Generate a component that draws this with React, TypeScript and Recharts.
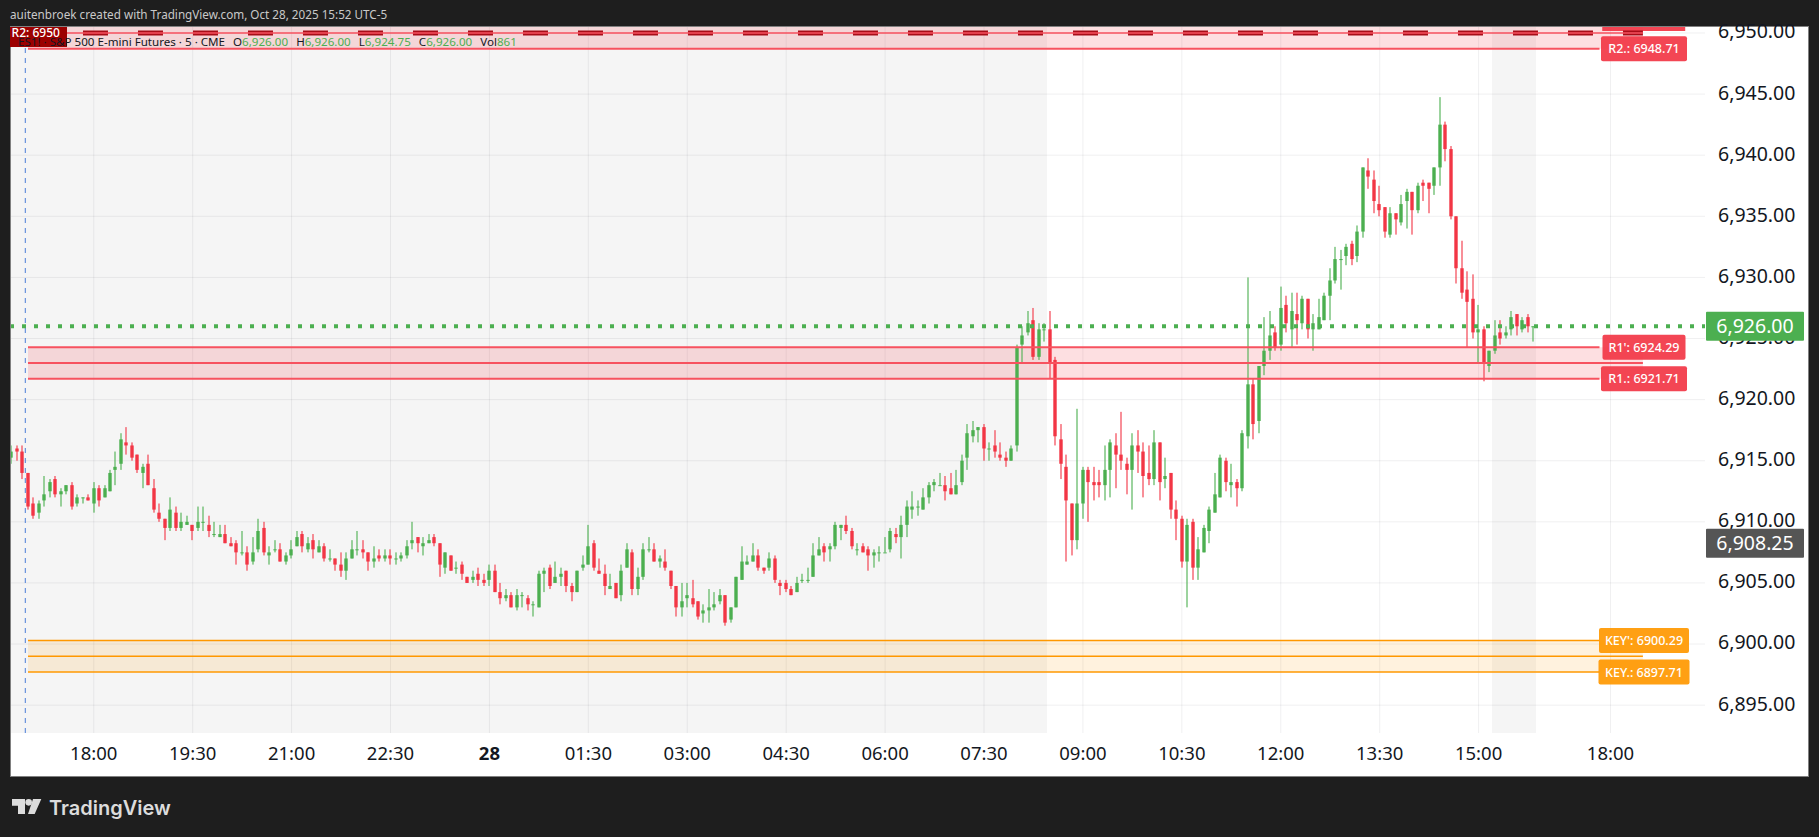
import {
  Bar,
  CartesianGrid,
  ComposedChart,
  ReferenceArea,
  ReferenceDot,
  ReferenceLine,
  XAxis,
  YAxis,
} from "recharts";

const opens = [
  6915.25,6916,6915.75,6914,6911.5,6910.75,6911.75,6912.5,6913.5,6912.25,
  6912.5,6913,6911.5,6912,6912,6911.5,6912.75,6912,6912.5,6914.25,
  6914.75,6916.5,6916.25,6915.5,6914,6914.75,6912.75,6910.75,6910.25,6909.5,
  6910.75,6909.5,6909.75,6909.75,6909.5,6910,6909.75,6909,6908.75,6909,
  6908.25,6908.25,6907.5,6907.5,6906.75,6907.75,6909.5,6907.25,6907.75,6907.75,
  6906.75,6907.25,6908,6909,6907.75,6908.5,6907.5,6908,6907,6907,
  6906.5,6906,6907,6907.75,6907.75,6907.5,6906.75,6907.25,6907,6907.25,
  6907,6907,6907.25,6908.25,6908.75,6908,6908.25,6908.75,6908.25,6906.25,
  6907.25,6906.25,6906.5,6905.5,6905.25,6905.75,6905.25,6905.25,6906,6904.25,
  6903.75,6904,6903,6904,6903.75,6903.25,6903,6905.75,6906.25,6905,
  6905.5,6906,6904.75,6904.25,6906.25,6906.5,6908.25,6906,6905.75,6904.5,
  6905,6904,6906.25,6907.5,6904.5,6905.5,6907.75,6907.75,6906.75,6906.75,
  6906,6904.75,6903,6903.75,6903.75,6903.5,6902.5,6902.75,6903,6903.5,
  6904,6902,6903,6905.25,6906.5,6906.75,6907.25,6906.25,6906.25,6907,
  6905,6905,6904.5,6904.25,6905.25,6905.25,6905.5,6907.25,6908,6907.75,
  6908,6909.5,6909.75,6909.25,6907.75,6908,6907.75,6907.25,6907.5,6907.5,
  6907.75,6909,6908.75,6909.75,6911,6911.25,6911,6912,6913,6913,
  6913,6912.75,6912.25,6913.25,6915.25,6917,6917.5,6917.75,6916,6916.25,
  6915.5,6915.25,6915,6916.25,6924.5,6925.5,6926.5,6923.5,6925.75,6925.75,
  6923.25,6916.75,6914.5,6911.5,6908.5,6911.5,6914.25,6913.25,6913.25,6913,
  6914.25,6916.25,6915.5,6914.75,6914.25,6916.25,6915.75,6914,6913.5,6916.5,
  6913.5,6914,6911,6910.25,6906.75,6910,6906.25,6907.5,6909.25,6910.75,
  6912,6915,6913,6913.25,6912.75,6917,6921.25,6918.25,6922.75,6924,
  6925.5,6924.5,6927.75,6925.75,6927,6926.25,6928.25,6925.75,6925.75,6926.5,
  6928.5,6929.75,6931.5,6931.75,6932.75,6931.75,6933.75,6938.75,6938,6936,
  6935.75,6933.5,6935.25,6934.5,6936.25,6937,6935.5,6937.75,6937.75,6937.5,
  6939,6942.5,6940.5,6935,6930.75,6929,6928.25,6925.5,6925.75,6922.75,
  6924,6925.5,6925.25,6925.75,6927,6925.75,6926.75,6926,
];

const highs = [
  6916.25,6916.25,6916.25,6914,6912,6911.75,6913.75,6913.5,6913.75,6912.75,
  6913,6913.25,6912.25,6912,6912.25,6913.25,6913,6913,6914.25,6915.75,
  6917.25,6917.75,6916.5,6915.5,6914.75,6915.5,6913.5,6911.5,6910.25,6912,
  6911.25,6910.75,6910.5,6909.75,6911.25,6911.25,6910.5,6910,6909.75,6909.75,
  6908.75,6908.5,6909.25,6908,6908.75,6910.25,6910,6908,6908.5,6908.25,
  6907.5,6908.5,6909.25,6909.25,6908.75,6909,6908.5,6908.25,6907.75,6907,
  6907.5,6907.5,6908.5,6909.25,6908.5,6907.5,6908,6907.75,6907.75,6907.75,
  6907.5,6907.5,6908.5,6910,6908.75,6908.75,6909,6909,6908.25,6907.5,
  6907.25,6906.75,6906.75,6905.5,6906,6906.25,6905.75,6906.5,6906.5,6905,
  6904.5,6904.25,6904.5,6904.25,6904,6903.5,6906,6906.25,6906.5,6906.75,
  6906.25,6906,6905,6906,6907.25,6909.75,6908.5,6907,6906.5,6905.75,
  6905,6906.5,6908.25,6907.75,6906.25,6908.25,6908.75,6908.25,6907.25,6907.75,
  6906,6904.75,6905,6905,6905.25,6903.5,6903.25,6904.5,6904.25,6904.5,
  6904,6903,6905.5,6908,6907.25,6908.25,6907.75,6906.25,6907.5,6907.25,
  6905.25,6905.25,6904.75,6905.5,6905.75,6906.25,6908.25,6908.75,6908.25,6908.25,
  6910,6909.75,6910.5,6909.5,6908.25,6908.25,6908,6907.75,6908,6908.75,
  6909.5,6909.5,6910.5,6911.75,6912.5,6911.75,6912.75,6913.25,6913.5,6914,
  6913.75,6914,6914.25,6915.5,6918,6918.25,6917.75,6918,6916.5,6917.5,
  6916.5,6915.75,6916.25,6924.5,6926,6927.25,6927.5,6926.25,6926.25,6927.25,
  6923.5,6918,6915.5,6911.5,6919.25,6914.5,6914.5,6914.5,6914.25,6916.25,
  6916.75,6917.25,6919,6915.25,6917.25,6917.5,6916.5,6916.25,6917.5,6916.5,
  6915.25,6914,6911.75,6910.5,6910.25,6910.25,6908.75,6909.75,6911.25,6914,
  6915.5,6915.25,6914.75,6913.5,6917.5,6930,6921.75,6922.75,6926.75,6927.25,
  6926,6929.25,6928.5,6928.75,6928.75,6928.5,6928.25,6927,6928.25,6928.75,
  6930.75,6932.5,6932.25,6932.75,6933,6934.25,6939,6939.75,6938.75,6937.5,
  6935.75,6935.75,6935.25,6936.75,6937.25,6937,6937.75,6938,6937.75,6939,
  6944.75,6942.75,6940.75,6935,6933,6930.5,6930.25,6927.75,6926,6924,
  6926.5,6926.5,6926,6927.25,6927,6926.75,6927,6926,
];

const lows = [
  6914.75,6915,6913.5,6911,6910.25,6910.25,6911.25,6912,6912,6911.25,
  6912.25,6911,6911.25,6911.5,6911.75,6910.75,6911.25,6912,6912.5,6913,
  6914.25,6915.5,6915,6914,6912.75,6913,6910.75,6910,6908.5,6909.25,
  6909.25,6909.25,6909.75,6908.5,6909.25,6909.25,6908.75,6908.75,6908.75,6908.25,
  6908,6906.5,6907.25,6906,6906.5,6907.5,6907.25,6906.5,6907.5,6906.75,
  6906.5,6907,6908,6907.5,6907.5,6907,6907.5,6906.75,6906.75,6906,
  6905.5,6905.25,6907,6907.25,6907,6906,6906.25,6906.75,6906.75,6906.5,
  6906.5,6906.75,6907,6907.75,6907.5,6907.25,6908.25,6908,6905.5,6905.75,
  6906,6905.75,6905.25,6905,6905,6904.75,6904.75,6904.75,6904.25,6903.25,
  6903.5,6903,6902.75,6903,6902.75,6902.25,6903,6904.25,6904.5,6905,
  6904.75,6904.25,6903.5,6904.25,6906,6906.5,6906,6905.75,6904,6904.5,
  6903.75,6903.5,6906.25,6904,6904,6905.25,6907.5,6906.75,6906.25,6906,
  6904.5,6902.25,6902.25,6903,6903,6902,6901.75,6901.75,6902.75,6903.25,
  6901.5,6901.75,6903,6905.25,6906.5,6906.75,6906,6905.75,6906,6905,
  6904,6904.25,6904,6904.25,6905,6905,6905.5,6907.25,6906.75,6906.75,
  6907.75,6908.5,6909,6907.75,6907.25,6907.5,6906,6906.25,6906.75,6907.5,
  6907.5,6908.25,6907,6908.75,6910.25,6910.5,6911,6911.5,6912.5,6913,
  6911.75,6912.25,6912.25,6913,6914.25,6916.5,6916.5,6915,6915,6915.25,
  6915,6914.5,6915,6915.75,6923,6925.25,6923.25,6923.25,6924.75,6921.75,
  6916.25,6913.5,6906.75,6907.25,6907.75,6910.25,6910,6911.75,6912,6911.75,
  6912,6912.75,6914.25,6912.25,6911,6914,6912,6913,6913,6911.75,
  6912.75,6910.25,6908.5,6906.25,6903,6905.25,6905.25,6907.5,6908.25,6910.75,
  6912,6912.5,6912,6911.25,6912.5,6916,6916.75,6917.25,6922,6923.25,
  6924,6924,6925.5,6924.25,6924.5,6925.75,6925,6924,6925.75,6926.5,
  6926.5,6929.5,6929,6931,6931,6931.25,6933.25,6937.25,6935.25,6935,
  6933.25,6933.25,6933.5,6934.25,6934,6933.5,6935.25,6936.25,6935.25,6936.75,
  6937.5,6939.5,6934.75,6929.5,6928.25,6924.25,6925,6923,6921.5,6922.25,
  6923.75,6924.5,6925,6925.25,6925.25,6925.5,6925.5,6924.75,
];

const closes = [
  6915.75,6915.75,6914,6911.25,6910.5,6911.5,6912.25,6913.25,6912.25,6912.5,
  6913,6911.25,6912,6912,6911.75,6912.75,6911.75,6912.75,6914,6914.5,
  6916.75,6916.25,6915.25,6914.25,6914.5,6913,6911,6910.25,6909.5,6911,
  6909.5,6910,6910,6909.25,6910,6910,6909.25,6909,6909,6908.25,
  6908,6907.5,6907.5,6906.5,6907.5,6909.25,6907.5,6907.5,6907.75,6906.75,
  6907.25,6907.75,6908.75,6908,6908.25,6907.75,6908,6907,6907,6906.5,
  6906,6907,6907.75,6907.75,6907.5,6906.75,6907,6907,6907.25,6907,
  6907,6907.25,6908,6908.5,6908.25,6908.25,6908.5,6908.25,6906.5,6907.5,
  6906,6906.25,6905.75,6905,6905.5,6905.25,6905,6906,6904.25,6903.75,
  6904,6903,6904,6904,6903.25,6903.25,6905.75,6906,6904.75,6905.5,
  6905.75,6904.75,6904.25,6906,6906.5,6908,6906.25,6905.75,6904.75,6904.75,
  6903.75,6906,6907.75,6904.5,6905.5,6907.75,6907.75,6906.75,6907,6906.25,
  6904.75,6903,6903.5,6904,6903.25,6902.25,6902.75,6903,6903.25,6904,
  6901.75,6903,6905.5,6906.75,6906.75,6907.25,6906.25,6906,6907,6905.25,
  6904.75,6904.5,6904,6905,6905.25,6905.25,6907.25,6907.75,6907.5,6908,
  6909.75,6909.75,6909.25,6908,6907.75,6907.5,6907.25,6907.5,6907.5,6907.5,
  6909.25,6908.75,6909.75,6911.25,6911.25,6911.25,6912,6913,6913.25,6913,
  6912.5,6912.25,6913,6915,6917.25,6917.5,6917.75,6916,6916,6915.75,
  6915.25,6915,6916,6924.25,6925.25,6926.25,6923.5,6925.75,6925.75,6923,
  6917,6914.75,6911.75,6908.5,6911.5,6914.25,6913.25,6913,6913,6914.25,
  6916.5,6915.5,6915,6914.25,6916.25,6915.75,6913.75,6913.5,6916.5,6913.25,
  6913.75,6911,6910.25,6906.75,6909.75,6906.25,6907.75,6909.5,6911,6912.25,
  6915.25,6913.25,6913.25,6912.75,6917.25,6921.25,6918,6922.75,6924,6925.25,
  6924.25,6927.5,6926.25,6927.25,6926.5,6928.25,6925.75,6926.25,6926.75,6928.5,
  6929.75,6931.5,6931.5,6932.5,6931.5,6933.75,6939,6938.25,6936.25,6935.5,
  6933.75,6935.25,6934.75,6936,6937,6935.5,6937.5,6937.5,6937.25,6939,
  6942.5,6940.5,6935,6930.75,6928.75,6928,6925.5,6925.75,6923,6924,
  6925.25,6925,6925.5,6926.75,6926,6926.5,6926,6926,
];

const timeTicks = [16, 34, 52, 70, 88, 106, 124, 142, 160, 178, 196, 214, 232, 250, 268, 292];
const timeLabels = ["18:00", "19:30", "21:00", "22:30", "28", "01:30", "03:00", "04:30", "06:00", "07:30", "09:00", "10:30", "12:00", "13:30", "15:00", "18:00"];
const priceTicks = [6895, 6900, 6905, 6910, 6915, 6920, 6925, 6930, 6935, 6940, 6945, 6950];

const GREEN = "#4caf50";
const RED = "#f23645";
const LINE_RED = "#f7525f";
const ORANGE = "#ff9800";
const FONT = "'Noto Sans', sans-serif";

// x is the bar number, so session shading and drawings sit on the same scale as the candles
const X_MIN = 0.94;
const X_MAX = 309.2;
const ZONE_START = 4.03;
const ZONE_END = 297.9;
const LABEL_START = 290;
const LABEL_CENTER = 298.1;

const candles = opens.map((open, i) => ({
  bar: i + 1,
  open,
  high: highs[i],
  low: lows[i],
  close: closes[i],
}));

const legendItems = [
  ["O", "6,926.00"],
  ["H", "6,926.00"],
  ["L", "6,924.75"],
  ["C", "6,926.00"],
  ["Vol", "861"],
];

function Candle(props: any) {
  const { x, y, width, height, payload } = props;
  const color = payload.close >= payload.open ? GREEN : RED;
  const perPoint = Math.abs(height) / (payload.high - payload.low);
  const top = y + (payload.high - Math.max(payload.open, payload.close)) * perPoint;
  const bodyHeight = Math.max(Math.abs(payload.open - payload.close) * perPoint, 1);
  const center = Math.round(x + width / 2);
  return (
    <g>
      <rect x={center - 0.55} y={y} width={1.1} height={Math.abs(height)} fill={color} />
      <rect x={center - 1.7} y={top} width={3.4} height={bodyHeight} fill={color} />
    </g>
  );
}

function TimeTick(props: any) {
  const { x, y, index } = props;
  const label = timeLabels[index];
  return (
    <text x={x} y={y} textAnchor="middle" fontFamily={FONT} fontSize={18.5} fontWeight={label === "28" ? 700 : 400} fill="#131722">
      {label}
    </text>
  );
}

function badge(text: string, width: number, color: string) {
  return (props: any) => (
    <g>
      <rect x={props.cx - width / 2} y={props.cy - 12.5} width={width} height={25} rx={2} fill={color} fillOpacity={0.92} />
      <text x={props.cx} y={props.cy + 4.5} textAnchor="middle" fontFamily={FONT} fontSize={12.5} fontWeight={500} fill="#fff">
        {text}
      </text>
    </g>
  );
}

function priceTag(text: string, color: string) {
  return (props: any) => (
    <g>
      <rect x={props.cx + 1} y={props.cy - 14.5} width={98} height={29} rx={1} fill={color} />
      <text x={props.cx + 50} y={props.cy + 7} textAnchor="middle" fontFamily={FONT} fontSize={19.5} fill="#fff">
        {text}
      </text>
    </g>
  );
}

function zoneLines(top: number, middle: number, bottom: number, color: string, width: number, key: string) {
  return [top, middle, bottom].map((price, i) => (
    <ReferenceLine
      key={key + i}
      segment={[
        { x: ZONE_START, y: price },
        { x: i === 1 ? ZONE_END : LABEL_START, y: price },
      ]}
      stroke={color}
      strokeWidth={width}
    />
  ));
}

export default function App() {
  return (
    <div style={{ position: "absolute", left: 0, top: 0, width: 1819, height: 837, background: "#1e1e1e", overflow: "hidden" }}>
      <div style={{ position: "absolute", left: 10, top: 26, width: 1797, height: 749, background: "#fff", border: "1px solid #808080" }} />

      <div style={{ position: "absolute", left: 0, top: 0 }}>
        <ComposedChart
          width={1819}
          height={837}
          data={candles}
          margin={{ left: 11, top: 27, right: 11, bottom: 61 }}
        >
          <CartesianGrid
            stroke="#2a2e39"
            strokeOpacity={0.07}
            strokeWidth={1}
            verticalValues={timeTicks}
            horizontalValues={priceTicks}
          />
          <XAxis
            dataKey="bar"
            type="number"
            domain={[X_MIN, X_MAX]}
            allowDataOverflow
            ticks={timeTicks}
            interval={0}
            height={43}
            tickLine={false}
            axisLine={false}
            tickSize={0}
            tickMargin={27}
            tick={TimeTick}
          />
          <YAxis
            orientation="right"
            type="number"
            domain={[6892.72, 6950.49]}
            allowDataOverflow
            ticks={priceTicks}
            interval={0}
            width={103}
            tickLine={false}
            axisLine={false}
            tickSize={0}
            tickMargin={13}
            tickFormatter={(v: number) => v.toLocaleString("en-US", { minimumFractionDigits: 2 })}
            tick={{ fontFamily: FONT, fontSize: 19.5, fill: "#131722", textAnchor: "start", dy: -1.5 }}
          />

          <ReferenceArea x1={X_MIN} x2={189.47} fill="#000" fillOpacity={0.04} stroke="none" />
          <ReferenceArea x1={270.44} x2={278.45} fill="#000" fillOpacity={0.04} stroke="none" />

          <Bar dataKey={(d: any) => [d.low, d.high]} barSize={5} shape={Candle} isAnimationActive={false} />

          <ReferenceLine x={3.54} stroke="#4a7dd8" strokeWidth={1} strokeDasharray="5 5" />

          <ReferenceLine y={6926} stroke={GREEN} strokeWidth={4} strokeDasharray="4 8" strokeDashoffset={1} />

          <ReferenceArea x1={ZONE_START} x2={ZONE_END} y1={6948.71} y2={6950.49} fill={RED} fillOpacity={0.16} stroke="none" />
          <ReferenceArea x1={ZONE_START} x2={ZONE_END} y1={6921.71} y2={6924.29} fill={RED} fillOpacity={0.16} stroke="none" />
          <ReferenceArea x1={ZONE_START} x2={ZONE_END} y1={6897.71} y2={6900.29} fill={ORANGE} fillOpacity={0.13} stroke="none" />

          <ReferenceLine
            segment={[{ x: ZONE_START, y: 6950 }, { x: ZONE_END, y: 6950 }]}
            stroke="#a80d18"
            strokeWidth={5}
            strokeDasharray="25 30"
          />
          <ReferenceLine segment={[{ x: ZONE_START, y: 6950 }, { x: ZONE_END, y: 6950 }]} stroke={LINE_RED} strokeWidth={1.5} />
          <ReferenceLine segment={[{ x: ZONE_START, y: 6948.71 }, { x: LABEL_START, y: 6948.71 }]} stroke={LINE_RED} strokeWidth={1.9} />
          {zoneLines(6924.29, 6923, 6921.71, LINE_RED, 1.9, "r1")}
          {zoneLines(6900.29, 6899, 6897.71, ORANGE, 1.5, "key")}

          <ReferenceArea x1={290.5} x2={305.6} y1={6950.16} y2={6950.49} fill={RED} fillOpacity={0.92} stroke="none" />
          <ReferenceDot x={LABEL_CENTER} y={6948.71} ifOverflow="visible" shape={badge("R2.: 6948.71", 86, RED)} />
          <ReferenceDot x={LABEL_CENTER} y={6924.29} ifOverflow="visible" shape={badge("R1': 6924.29", 83, RED)} />
          <ReferenceDot x={LABEL_CENTER} y={6921.71} ifOverflow="visible" shape={badge("R1.: 6921.71", 86, RED)} />
          <ReferenceDot x={LABEL_CENTER} y={6900.29} ifOverflow="visible" shape={badge("KEY': 6900.29", 90, ORANGE)} />
          <ReferenceDot x={LABEL_CENTER} y={6897.71} ifOverflow="visible" shape={badge("KEY.: 6897.71", 91, ORANGE)} />

          <ReferenceDot x={X_MAX} y={6926} ifOverflow="visible" zIndex={3000} shape={priceTag("6,926.00", GREEN)} />
          <ReferenceDot x={X_MAX} y={6908.25} ifOverflow="visible" zIndex={3000} shape={priceTag("6,908.25", "#555555")} />
        </ComposedChart>
      </div>

      <div style={{ position: "absolute", left: 10, top: 6, fontFamily: FONT, fontSize: 11.7, color: "#c9c9c9", whiteSpace: "nowrap" }}>
        auitenbroek created with TradingView.com, Oct 28, 2025 15:52 UTC-5
      </div>

      <div style={{ position: "absolute", left: 9.6, top: 27, width: 57.4, height: 20, background: "#9c0000", color: "#fff", fontFamily: FONT, fontSize: 12, fontWeight: 500, lineHeight: "12px", paddingLeft: 2, boxSizing: "border-box", whiteSpace: "nowrap" }}>
        R2: 6950
      </div>
      <div style={{ position: "absolute", left: 18, top: 34, fontFamily: FONT, fontSize: 11.6, lineHeight: "15px", color: "#131722", whiteSpace: "nowrap" }}>
        ES1! · S&amp;P 500 E-mini Futures · 5 · CME
        {legendItems.map(([name, value]) => (
          <span key={name} style={{ marginLeft: 8 }}>
            {name}
            <span style={{ color: GREEN }}>{value}</span>
          </span>
        ))}
      </div>

      <svg style={{ position: "absolute", left: 12, top: 799 }} width={30} height={15} viewBox="0 0 90 45">
        <path d="M0 0H39V45H18V20H0Z M88 0H63L48 45H68Z" fill="#dcdcdc" />
        <circle cx="50" cy="10" r="10" fill="#dcdcdc" />
      </svg>
      <div style={{ position: "absolute", left: 49, top: 794, fontFamily: "Inter, sans-serif", fontSize: 20, fontWeight: 600, lineHeight: "28px", color: "#dcdcdc", whiteSpace: "nowrap" }}>
        TradingView
      </div>
    </div>
  );
}
